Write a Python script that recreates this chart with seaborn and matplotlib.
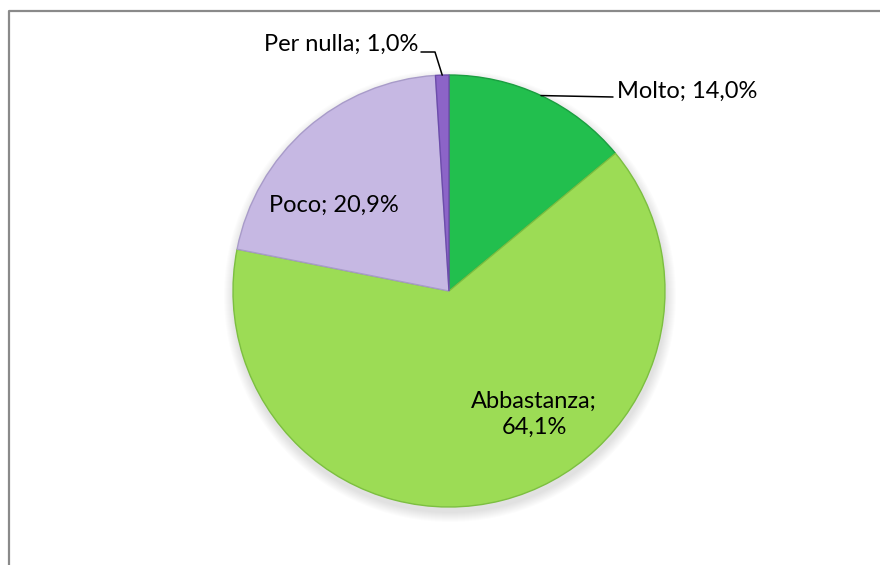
import matplotlib
matplotlib.use("Agg")
import numpy as np
import matplotlib.pyplot as plt
import seaborn as sns
from matplotlib.lines import Line2D
from matplotlib.patches import Circle

# ================================
# Data
# ================================
categories = ["Molto", "Abbastanza", "Poco", "Per nulla"]
values = [14.0, 64.1, 20.9, 1.0]
colors = ["#22bf4e", "#9cdc55", "#c6b8e3", "#8c64c8"]
edges = ["#1a9e40", "#7cbf40", "#a89bc9", "#6c4cab"]

sns.set_theme(style="white")
plt.rcParams["font.family"] = ["Lato", "DejaVu Sans"]

W, H = 880, 565
fig = plt.figure(figsize=(W / 100, H / 100), dpi=100)
ax = fig.add_axes([0, 0, 1, 1])

# pie geometry in pixel units (y from bottom)
cx, cy, r = 449, H - 291, 216

# soft shadow under the pie
for k in range(10):
    ax.add_patch(Circle((cx + 1, cy - 5), r + 10 - k, color="black",
                        alpha=0.01, lw=0, zorder=0))

wedges, _ = ax.pie(
    values,
    colors=sns.color_palette(colors),
    startangle=90,
    counterclock=False,
    center=(cx, cy),
    radius=r,
    wedgeprops=dict(linewidth=1.0),
)
for w, ec in zip(wedges, edges):
    w.set_edgecolor(ec)
    w.set_zorder(2)

ax.set_xlim(0, W)
ax.set_ylim(0, H)
ax.set_aspect("equal")
ax.axis("off")


def label(cat, val):
    return f"{cat}; {val:.1f}%".replace(".", ",")


def edge_point(w):
    mid = np.deg2rad((w.theta1 + w.theta2) / 2)
    return cx + r * np.cos(mid), cy + r * np.sin(mid)


fs = 17

# Molto
px, py = edge_point(wedges[0])
ax.add_line(Line2D([px, 613], [py, H - 97], color="black", lw=1.1, zorder=3))
ax.text(617, H - 91, label(categories[0], values[0]), ha="left", va="center",
        fontsize=fs, color="black")

# Abbastanza
ax.text(534, H - 414, "Abbastanza;\n" + f"{values[1]:.1f}%".replace(".", ","),
        ha="center", va="center", fontsize=fs, color="black", linespacing=1.3)

# Poco
ax.text(334, H - 205, label(categories[2], values[2]), ha="center", va="center",
        fontsize=fs, color="black")

# Per nulla
px, py = edge_point(wedges[3])
ax.add_line(Line2D([px, 435, 421], [py, H - 52, H - 52], color="black",
                   lw=1.1, zorder=3))
ax.text(418, H - 44, label(categories[3], values[3]), ha="right", va="center",
        fontsize=fs, color="black")

# chart frame (cut at right/bottom)
fig.add_artist(Line2D([8.5 / W, 8.5 / W, 1.0], [0.0, 1 - 10.5 / H, 1 - 10.5 / H],
                      transform=fig.transFigure, color="#8a8a8a", lw=1.6))

fig.savefig("out.png", dpi=100)
